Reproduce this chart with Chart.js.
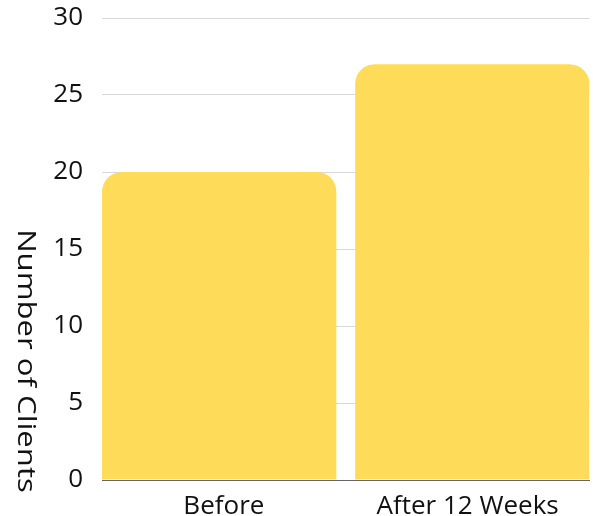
<!DOCTYPE html>
<html>
<head>
<meta charset="utf-8">
<script src="https://cdn.jsdelivr.net/npm/chart.js@4"></script>
<style>
  html, body { margin: 0; padding: 0; background: #ffffff; }
  #wrap { width: 593px; height: 516px; position: relative; }
</style>
</head>
<body>
<div id="wrap"><canvas id="clientsChart"></canvas></div>
<script>
// Chart data
const categories = ['Before', 'After 12 Weeks'];
const clientCounts = [20, 27];
const yTicks = [0, 5, 10, 15, 20, 25, 30];
const yTitle = 'Number of Clients';

const barColor = '#FEDC5A';
const fontFamily = "'Open Sans', sans-serif";
const innerGap = 9.75;   // half of the space between the two bars

// Rotated axis title, reading top to bottom
const sideTitle = {
    id: 'sideTitle',
    afterDraw(chart) {
        const ctx = chart.ctx;
        ctx.save();
        ctx.translate(17.5, 361);
        ctx.rotate(Math.PI / 2);
        ctx.scale(1.22, 1);
        ctx.font = '25.5px ' + fontFamily;
        ctx.fillStyle = '#111111';
        ctx.textAlign = 'center';
        ctx.textBaseline = 'alphabetic';
        ctx.fillText(yTitle, 0, 0);
        ctx.restore();
    }
};

function initChart() {
    const ctx = document.getElementById('clientsChart').getContext('2d');

    new Chart(ctx, {
        type: 'bar',
        data: {
            labels: categories,
            datasets: [{
                data: clientCounts,
                backgroundColor: barColor,
                borderColor: 'rgba(0,0,0,0)',
                // transparent border on the inner side opens the gap between bars
                borderWidth: c => c.dataIndex === 0
                    ? { top: 0, left: 0, bottom: 0, right: innerGap }
                    : { top: 0, left: innerGap, bottom: 0, right: 0 },
                borderRadius: c => c.dataIndex === 0
                    ? { topLeft: 20, topRight: 20 + innerGap, bottomLeft: 0, bottomRight: 0 }
                    : { topLeft: 20 + innerGap, topRight: 20, bottomLeft: 0, bottomRight: 0 },
                borderSkipped: 'bottom',
                categoryPercentage: 1,
                barPercentage: 1
            }]
        },
        options: {
            responsive: true,
            maintainAspectRatio: false,
            animation: false,
            layout: {
                padding: { top: 18, right: 3.5, bottom: 0, left: 0 }
            },
            plugins: {
                legend: { display: false },
                tooltip: { enabled: false }
            },
            scales: {
                x: {
                    grid: { display: false },
                    border: { display: true, color: '#666666', width: 1 },
                    ticks: {
                        color: '#111111',
                        font: { family: fontFamily, size: 26 },
                        padding: 3
                    },
                    afterFit: s => { s.height = 36; }
                },
                y: {
                    min: 0,
                    max: 30,
                    afterBuildTicks: s => { s.ticks = yTicks.map(v => ({ value: v })); },
                    grid: { color: '#d8d8d8', lineWidth: 1, drawTicks: false },
                    border: { display: false },
                    ticks: {
                        color: '#111111',
                        font: { family: fontFamily, size: 26 },
                        padding: 19
                    },
                    afterFit: s => {
                        s.width = 102;
                        s.paddingTop = 0;
                        s.paddingBottom = 0;
                    }
                }
            }
        },
        plugins: [sideTitle]
    });
}

document.addEventListener('DOMContentLoaded', initChart);
</script>
</body>
</html>
